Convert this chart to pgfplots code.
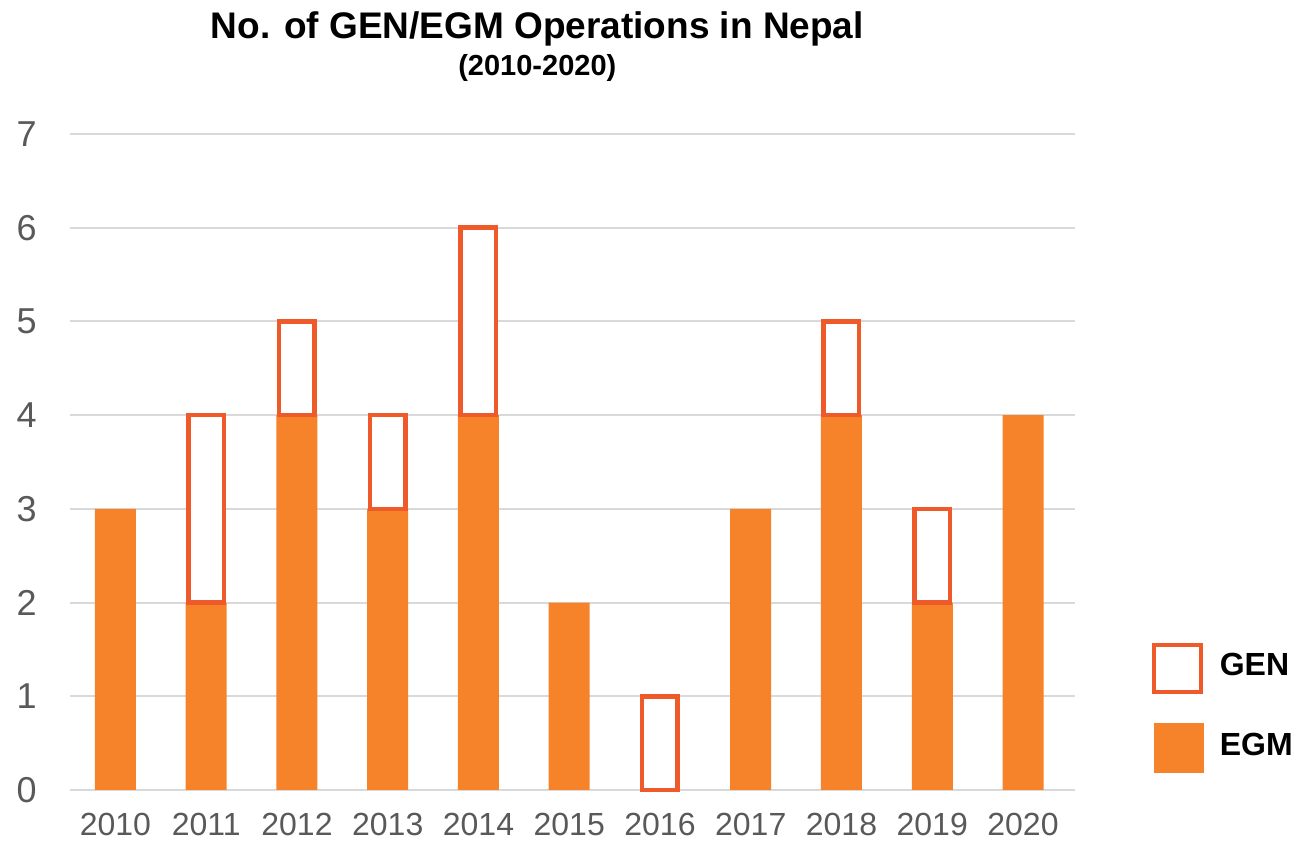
\documentclass[border=0pt]{standalone}
\usepackage{fontspec}
\setmainfont{Liberation Sans}
\usepackage{pgfplots}
\usepackage{pgfplotstable}
\pgfplotsset{compat=1.18}
\definecolor{egmc}{HTML}{F6822A}
\definecolor{genc}{HTML}{EE5A2A}
\definecolor{gridc}{HTML}{D9D9D9}
\definecolor{tickc}{HTML}{595959}
\pgfplotstableread{
x EGM
0 3
1 2
2 4
3 3
4 4
5 2
6 0
7 3
8 4
9 2
10 4
}\egmtable
\pgfplotstableread{
x EGM GEN
1 2 2
2 4 1
3 3 1
4 4 2
6 0 1
8 4 1
9 2 1
}\gentable
\begin{document}
\begin{tikzpicture}
\path[use as bounding box] (-35pt,-27pt) rectangle (615.5pt,395pt);
\begin{axis}[
  at={(0pt,0pt)}, anchor=south west,
  scale only axis,
  width=502.5pt, height=328pt,
  ybar, bar shift=0pt,
  xmin=-0.501, xmax=10.573,
  ymin=0, ymax=7,
  ytick={0,1,...,7},
  xtick={0,...,10},
  xticklabels={2010,2011,2012,2013,2014,2015,2016,2017,2018,2019,2020},
  axis line style={draw=none},
  major tick length=0pt,
  ymajorgrids,
  grid style={gridc, line width=1pt},
  /pgf/number format/assume math mode=true,
  xticklabel style={font=\fontsize{16}{19}\selectfont, text=tickc, inner sep=0pt, anchor=north, yshift=-11.5pt},
  yticklabel style={font=\fontsize{18}{21}\selectfont, text=tickc, inner sep=0pt, anchor=east, xshift=-16.5pt},
  clip=false,
  reverse legend,
  legend style={at={(1.0762,0.2241)}, anchor=north west, draw=none, fill=none,
    inner sep=0pt, outer sep=0pt, row sep=14.5pt,
    font=\bfseries\fontsize{16}{19}\selectfont,
    /tikz/every odd column/.append style={column sep=6pt}},
  legend cell align=left,
]
\addplot[fill=egmc, draw=none, bar width=20.5pt,
  legend image code/.code={\fill[egmc] (0pt,-14pt) rectangle (25pt,11pt);}]
  table[x=x, y=EGM] {\egmtable};
\addlegendentry{EGM}
\addplot[forget plot, stack plots=y, draw=none, fill=none, bar width=17.75pt]
  table[x=x, y=EGM] {\gentable};
\addplot[stack plots=y, fill=white, draw=genc, line width=2.25pt, bar width=17.75pt,
  legend image code/.code={\draw[genc, line width=2.25pt, fill=white] (0pt,-13.25pt) rectangle (23.5pt,10.25pt);}]
  table[x=x, y=GEN] {\gentable};
\addlegendentry{GEN}
\node[anchor=base, font=\bfseries\fontsize{18.5}{22}\selectfont] at (rel axis cs:0.465,1.1463) {No. of GEN/EGM Operations in Nepal};
\node[anchor=base, font=\bfseries\fontsize{14.5}{17}\selectfont] at (rel axis cs:0.465,1.0899) {(2010-2020)};
\end{axis}
\end{tikzpicture}
\end{document}
